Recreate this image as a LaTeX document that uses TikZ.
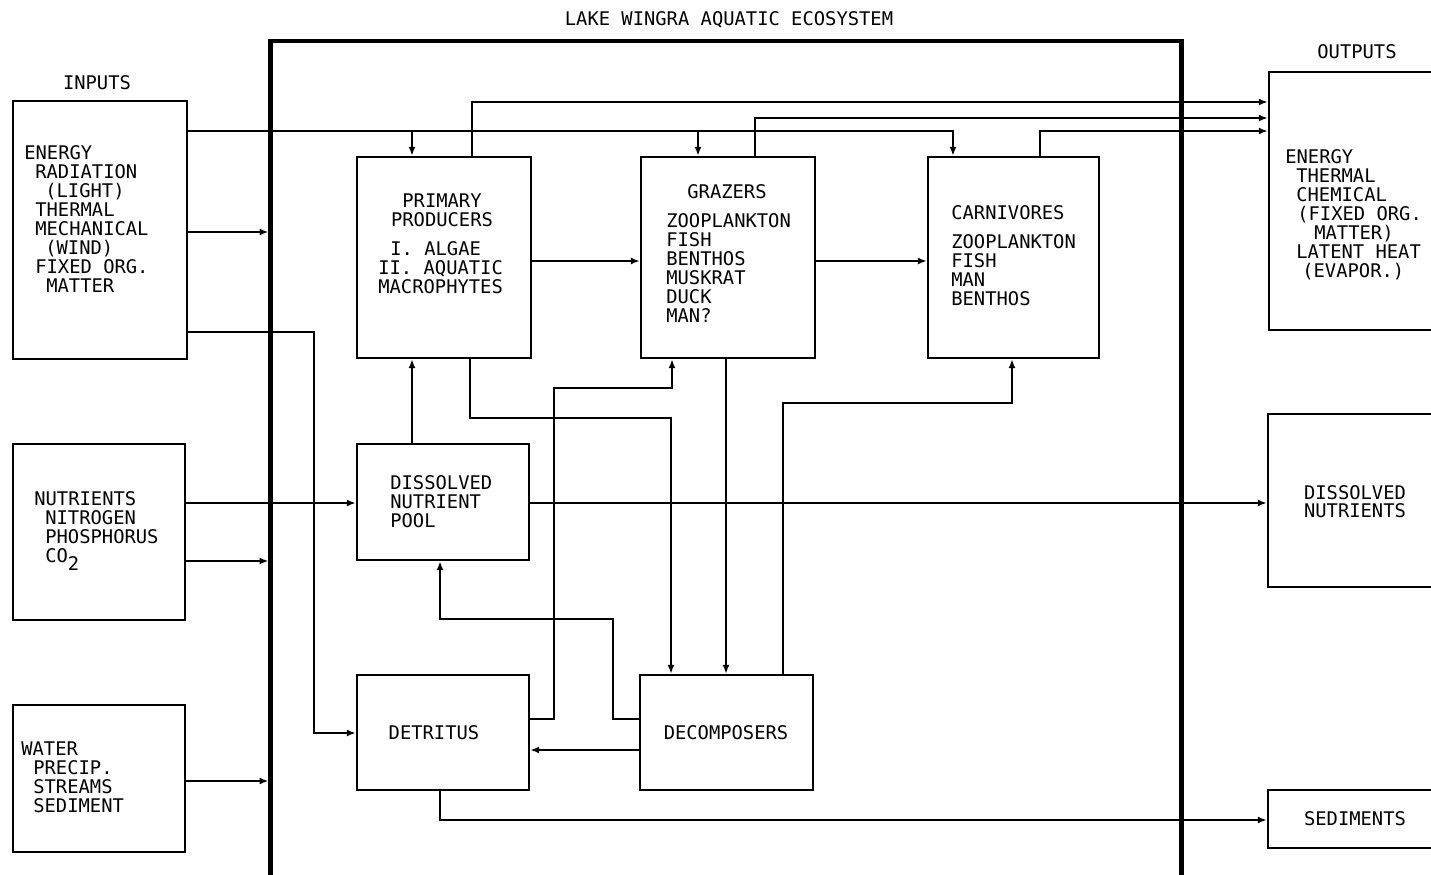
\documentclass[tikz,border=0pt]{standalone}
\usepackage{fontspec}
\newfontfamily\dm{DejaVu Sans Mono}
\usetikzlibrary{arrows.meta}
\newlength\pxu \setlength\pxu{0.02cm}
\newcommand\myind[1]{\hspace*{#1\pxu}}
\begin{document}
\begin{tikzpicture}[x=0.02cm,y=-0.02cm,
  ln/.style={line width=0.9pt},
  arr/.style={ln,-{Latex[length=5pt,width=4pt]}},
  blk/.style={draw,line width=1.6pt,inner sep=0},
  eco/.style={draw,line width=2.6pt,inner sep=0},
  tfont/.style={font=\dm\fontsize{10.7}{10.85}\selectfont},
  txt/.style={tfont,inner sep=0,align=left,anchor=north west},
  ctxt/.style={tfont,inner sep=0,align=center,anchor=north},
  ltxt/.style={tfont,inner sep=0,anchor=base}]
\useasboundingbox (0,0) rectangle (1431,875);

% ecosystem box
\node[eco,minimum width=18.22cm,minimum height=16.72cm] (ecobox) at (726,459) {};

% boxes
\node[blk,minimum width=3.48cm,minimum height=5.16cm] (in1) at (100,230) {};
\node[blk,minimum width=3.44cm,minimum height=3.52cm] (in2) at (99,532) {};
\node[blk,minimum width=3.44cm,minimum height=2.94cm] (in3) at (99,778.5) {};
\node[blk,minimum width=3.48cm,minimum height=4.02cm] (pp) at (444,257.5) {};
\node[blk,minimum width=3.48cm,minimum height=4.02cm] (gr) at (728,257.5) {};
\node[blk,minimum width=3.42cm,minimum height=4.02cm] (ca) at (1013.5,257.5) {};
\node[blk,minimum width=3.44cm,minimum height=2.32cm] (dnp) at (443,502) {};
\node[blk,minimum width=3.44cm,minimum height=2.30cm] (det) at (443,732.5) {};
\node[blk,minimum width=3.46cm,minimum height=2.30cm] (dec) at (726.5,732.5) {};
\node[blk,minimum width=4.02cm,minimum height=5.16cm] (out1) at (1369.5,201) {};
\node[blk,minimum width=4.04cm,minimum height=3.46cm] (out2) at (1369,500.5) {};
\node[blk,minimum width=4.04cm,minimum height=1.16cm] (out3) at (1369,819) {};

% labels
\node[ltxt] (title) at (729,25.8) {LAKE WINGRA AQUATIC ECOSYSTEM};
\node[ltxt] (inlab) at (97,89.8) {INPUTS};
\node[ltxt] (outlab) at (1357,58.8) {OUTPUTS};

\node[txt] (t1) at (24,145) {ENERGY\\\myind{11}RADIATION\\\myind{21}(LIGHT)\\\myind{11}THERMAL\\\myind{11}MECHANICAL\\\myind{21}(WIND)\\\myind{11}FIXED ORG.\\\myind{22}MATTER};
\node[txt] (t2) at (34,491) {NUTRIENTS\\\myind{11}NITROGEN\\\myind{11}PHOSPHORUS\\\myind{11}CO\raisebox{-4.5pt}{2}};
\node[txt] (t3) at (21,741) {WATER\\\myind{12}PRECIP.\\\myind{12}STREAMS\\\myind{12}SEDIMENT};

\node[ctxt] (t4) at (442,193) {PRIMARY\\PRODUCERS};
\node[txt] (t5) at (378,241) {\myind{12}I. ALGAE\\II. AQUATIC\\MACROPHYTES};
\node[ctxt] (t6) at (727,184) {GRAZERS};
\node[txt] (t7) at (666,213) {ZOOPLANKTON\\FISH\\BENTHOS\\MUSKRAT\\DUCK\\MAN?};
\node[txt] (t8) at (951,205) {CARNIVORES};
\node[txt] (t9) at (951,234) {ZOOPLANKTON\\FISH\\MAN\\BENTHOS};
\node[txt] (t10) at (390,475) {DISSOLVED\\NUTRIENT\\POOL};
\node[ltxt] (t11) at (434,739.8) {DETRITUS};
\node[ltxt] (t12) at (726,739.8) {DECOMPOSERS};

\node[txt] (t13) at (1285,149) {ENERGY\\\myind{11}THERMAL\\\myind{11}CHEMICAL\\\myind{12}(FIXED ORG.\\\myind{29}MATTER)\\\myind{11}LATENT HEAT\\\myind{17}(EVAPOR.)};
\node[ctxt,font=\dm\fontsize{10.7}{10.2}\selectfont] (t14) at (1355,485) {DISSOLVED\\NUTRIENTS};
\node[ltxt] (t15) at (1355,825.8) {SEDIMENTS};

% connectors
\draw[arr] (in1.east |- 0,131) -- (953,131) -- (ca.north -| 953,0);
\draw[arr] (412,131) -- (pp.north -| 412,0);
\draw[arr] (698,131) -- (gr.north -| 698,0);
\draw[arr] (pp.north -| 472,0) -- (472,102) -- (out1.west |- 0,102);
\draw[arr] (gr.north -| 755,0) -- (755,118) -- (out1.west |- 0,118);
\draw[arr] (ca.north -| 1040,0) -- (1040,131) -- (out1.west |- 0,131);
\draw[arr] (in1.east |- 0,232) -- (ecobox.west |- 0,232);
\draw[arr] (in1.east |- 0,332) -- (314,332) -- (314,733) -- (det.west |- 0,733);
\draw[arr] (in2.east |- 0,503) -- (dnp.west |- 0,503);
\draw[arr] (in2.east |- 0,561) -- (ecobox.west |- 0,561);
\draw[arr] (in3.east |- 0,781) -- (ecobox.west |- 0,781);
\draw[arr] (dnp.north -| 412,0) -- (pp.south -| 412,0);
\draw[arr] (dnp.east |- 0,503) -- (out2.west |- 0,503);
\draw[arr] (pp.east |- 0,261) -- (gr.west |- 0,261);
\draw[arr] (gr.east |- 0,261) -- (ca.west |- 0,261);
\draw[arr] (pp.south -| 470,0) -- (470,418) -- (671,418) -- (dec.north -| 671,0);
\draw[arr] (gr.south -| 726,0) -- (dec.north -| 726,0);
\draw[arr] (dec.north -| 783,0) -- (783,403) -- (1012,403) -- (ca.south -| 1012,0);
\draw[arr] (det.east |- 0,719) -- (554,719) -- (554,388) -- (672,388) -- (gr.south -| 672,0);
\draw[arr] (dec.west |- 0,719) -- (613,719) -- (613,619) -- (440,619) -- (dnp.south -| 440,0);
\draw[arr] (dec.west |- 0,750) -- (det.east |- 0,750);
\draw[arr] (det.south -| 440,0) -- (440,820) -- (out3.west |- 0,820);
\end{tikzpicture}
\end{document}
